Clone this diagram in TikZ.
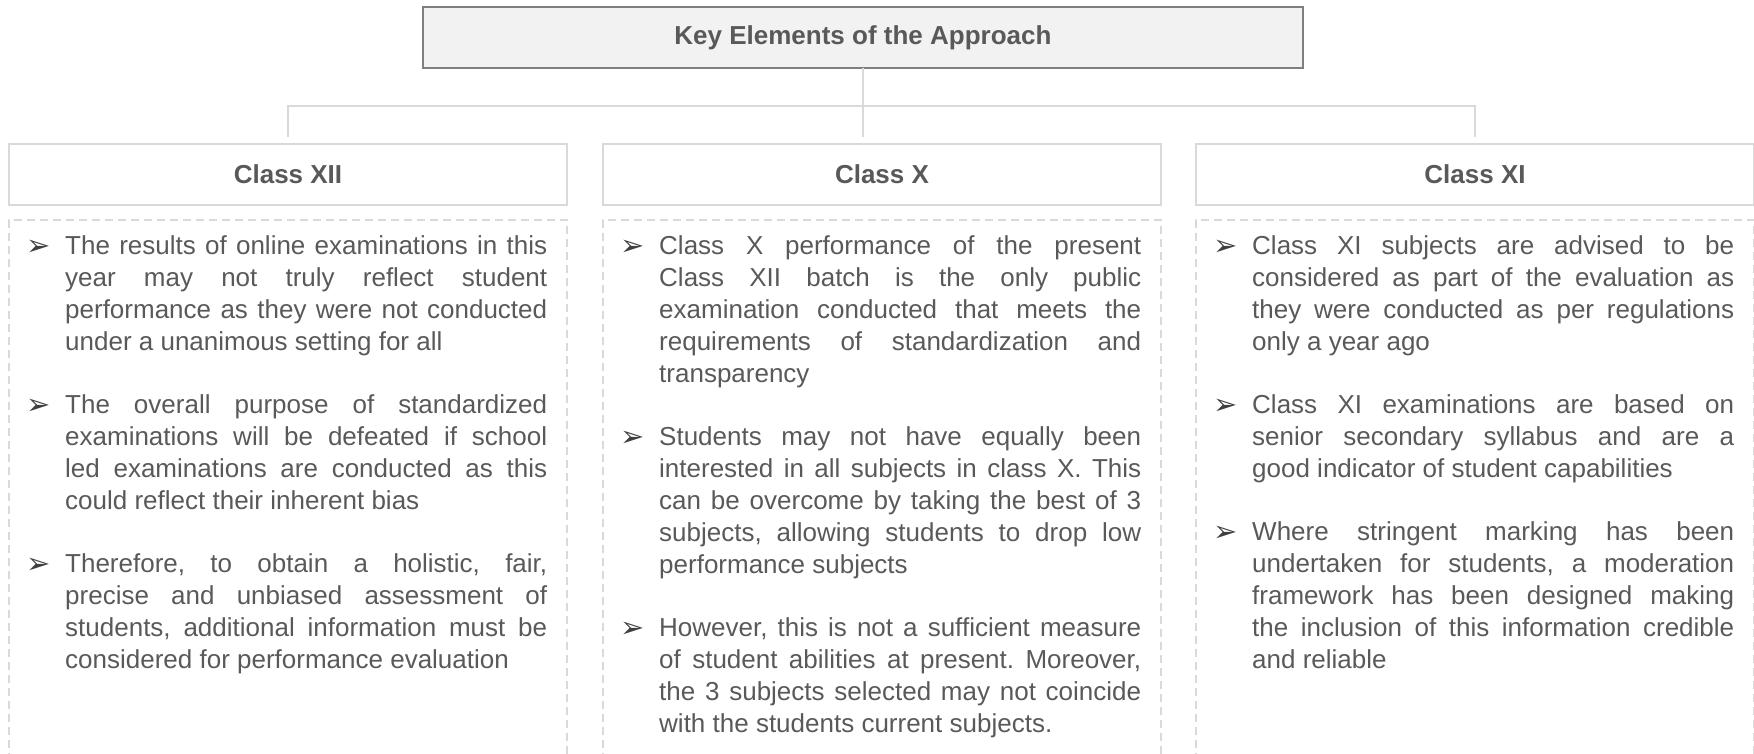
\documentclass[tikz,border=0pt]{standalone}
\usepackage{fontspec}
\setmainfont{Liberation Sans}
\newfontfamily\arrowfont{DejaVu Sans}
\usetikzlibrary{positioning}
\definecolor{textgray}{HTML}{595959}
\definecolor{titleline}{HTML}{7F7F7F}
\definecolor{titlefill}{HTML}{F2F2F2}
\definecolor{lightline}{HTML}{D9D9D9}
\definecolor{bulletgray}{HTML}{404040}
\setlength{\parindent}{0pt}
\frenchspacing
\newcommand{\pointer}{\leavevmode\llap{\makebox[39pt][l]{\color{bulletgray}\fontsize{29}{29}\arrowfont\raisebox{-1pt}{➢}}}}
\newcommand{\itemgap}{\par\vspace{31pt}}

\begin{document}
\begin{tikzpicture}[x=1pt, y=-1pt,
    titlebox/.style={rectangle, draw=titleline, fill=titlefill, line width=1.5pt, minimum width=880pt, minimum height=61pt, inner sep=0pt, outer sep=0pt, font=\bfseries\fontsize{26}{32}\selectfont, text=textgray},
    headbox/.style={rectangle, draw=lightline, line width=2pt, minimum width=558pt, minimum height=61pt, inner sep=0pt, outer sep=0pt, font=\bfseries\fontsize{26}{32}\selectfont, text=textgray},
    listbox/.style={rectangle, draw=lightline, line width=1.5pt, dash pattern=on 8pt off 5pt, minimum width=558pt, minimum height=600pt, inner sep=0pt, outer sep=0pt},
    listtext/.style={anchor=north west, inner sep=0pt, text width=482pt, align=justify, font=\fontsize{26}{32}\selectfont, text=textgray},
    conn/.style={draw=lightline, line width=1.5pt}]
    \useasboundingbox (0,0) rectangle (1754,753);
    \clip (0,0) rectangle (1754,753);

    % Nodes
    \node (title) [titlebox] at (863,37.5) {Key Elements of the Approach};
    \node (classxii) [headbox] at (288,174.5) {Class XII};
    \node (classx) [headbox, right=36pt of classxii] {Class X};
    \node (classxi) [headbox, right=35pt of classx] {Class XI};

    \node (xiilist) [listbox, below=15pt of classxii] {};
    \node (xlist) [listbox, below=15pt of classx] {};
    \node (xilist) [listbox, below=15pt of classxi] {};

    \node (xiitext) [listtext] at ([shift={(56pt,-15pt)}]xiilist.north west) {%
        \pointer The results of online examinations in this \linebreak year may not truly reflect student \linebreak performance as they were not conducted \linebreak under a unanimous setting for all\itemgap
        \pointer The overall purpose of standardized \linebreak examinations will be defeated if school \linebreak led examinations are conducted as this \linebreak could reflect their inherent bias\itemgap
        \pointer Therefore, to obtain a holistic, fair, \linebreak precise and unbiased assessment of \linebreak students, additional information must be \linebreak considered for performance evaluation};
    \node (xtext) [listtext] at ([shift={(56pt,-15pt)}]xlist.north west) {%
        \pointer Class X performance of the present \linebreak Class XII batch is the only public \linebreak examination conducted that meets the \linebreak requirements of standardization and \linebreak transparency\itemgap
        \pointer Students may not have equally been \linebreak interested in all subjects in class X. This \linebreak can be overcome by taking the best of 3 \linebreak subjects, allowing students to drop low \linebreak performance subjects\itemgap
        \pointer However, this is not a sufficient measure \linebreak of student abilities at present. Moreover, \linebreak the 3 subjects selected may not coincide \linebreak with the students current subjects.};
    \node (xitext) [listtext] at ([shift={(56pt,-15pt)}]xilist.north west) {%
        \pointer Class XI subjects are advised to be \linebreak considered as part of the evaluation as \linebreak they were conducted as per regulations \linebreak only a year ago\itemgap
        \pointer Class XI examinations are based on \linebreak senior secondary syllabus and are a \linebreak good indicator of student capabilities\itemgap
        \pointer Where stringent marking has been \linebreak undertaken for students, a moderation \linebreak framework has been designed making \linebreak the inclusion of this information credible \linebreak and reliable};

    % Connectors
    \coordinate (bus) at (863,106);
    \draw[conn, shorten >=7pt] (title.south) -- (title.south |- classx.north);
    \draw[conn, shorten <=7pt, shorten >=7pt] (classxii.north) |- (bus) -| (classxi.north);
\end{tikzpicture}
\end{document}
